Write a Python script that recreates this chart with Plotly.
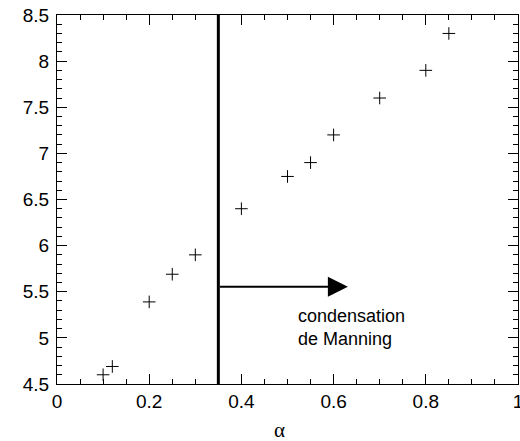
import plotly.graph_objects as go

alpha = [0.1, 0.12, 0.2, 0.25, 0.3, 0.4, 0.5, 0.55, 0.6, 0.7, 0.8, 0.85]
values = [4.6, 4.69, 5.39, 5.69, 5.9, 6.4, 6.75, 6.9, 7.2, 7.6, 7.9, 8.3]

threshold_alpha = 0.35
arrow_y = 5.555
arrow_end = 0.631
note_text = "condensation<br>de Manning"
note_x = 0.519
note_y = 5.11
x_title = "α"

FONT = "Arial, Liberation Sans, sans-serif"

fig = go.Figure()
fig.add_trace(go.Scatter(
    x=alpha, y=values, mode="markers",
    marker=dict(symbol="cross-thin", size=9, color="black",
                line=dict(width=1, color="black")),
    showlegend=False, hoverinfo="skip"))

fig.add_shape(type="line", x0=threshold_alpha, x1=threshold_alpha, y0=4.5, y1=8.5,
              xref="x", yref="y", line=dict(color="black", width=3))

fig.add_annotation(x=arrow_end, y=arrow_y, ax=threshold_alpha, ay=arrow_y,
                   xref="x", yref="y", axref="x", ayref="y", text="",
                   showarrow=True, arrowhead=2, arrowsize=2, arrowwidth=2,
                   arrowcolor="black", standoff=0, startstandoff=0)

fig.add_annotation(x=note_x, y=note_y, xref="x", yref="y", text=note_text,
                   showarrow=False, xanchor="left", yanchor="middle", align="left",
                   font=dict(family=FONT, size=18, color="black"))

fig.add_annotation(x=0.482, y=0, xref="x", yref="paper", yanchor="top", yshift=-33,
                   text=x_title, showarrow=False, borderpad=0,
                   font=dict(family="Liberation Serif, serif", size=21, color="black"))

axis_common = dict(showgrid=False, zeroline=False, showline=True, linecolor="black",
                   linewidth=1, mirror="ticks", ticks="inside", tickcolor="black",
                   ticklen=10, tickwidth=1, ticklabeloverflow="allow",
                   tickfont=dict(family=FONT, size=19, color="black"))

fig.update_xaxes(range=[0, 1], tick0=0, dtick=0.2,
                 minor=dict(dtick=0.05, ticks="inside", ticklen=5, tickcolor="black", tickwidth=1),
                 **axis_common)
fig.update_yaxes(range=[4.5, 8.5], tick0=4.5, dtick=0.5, ticklabelstandoff=3,
                 minor=dict(dtick=0.1, ticks="inside", ticklen=5, tickcolor="black", tickwidth=1),
                 **axis_common)

fig.update_layout(width=520, height=441, margin=dict(l=57, r=1.5, t=15, b=57, autoexpand=False),
                  plot_bgcolor="white", paper_bgcolor="white",
                  font=dict(family=FONT, color="black"))

fig.write_html("out.html", config={"displayModeBar": False},
               post_script="document.body.style.margin='0';document.body.style.overflow='hidden';")
